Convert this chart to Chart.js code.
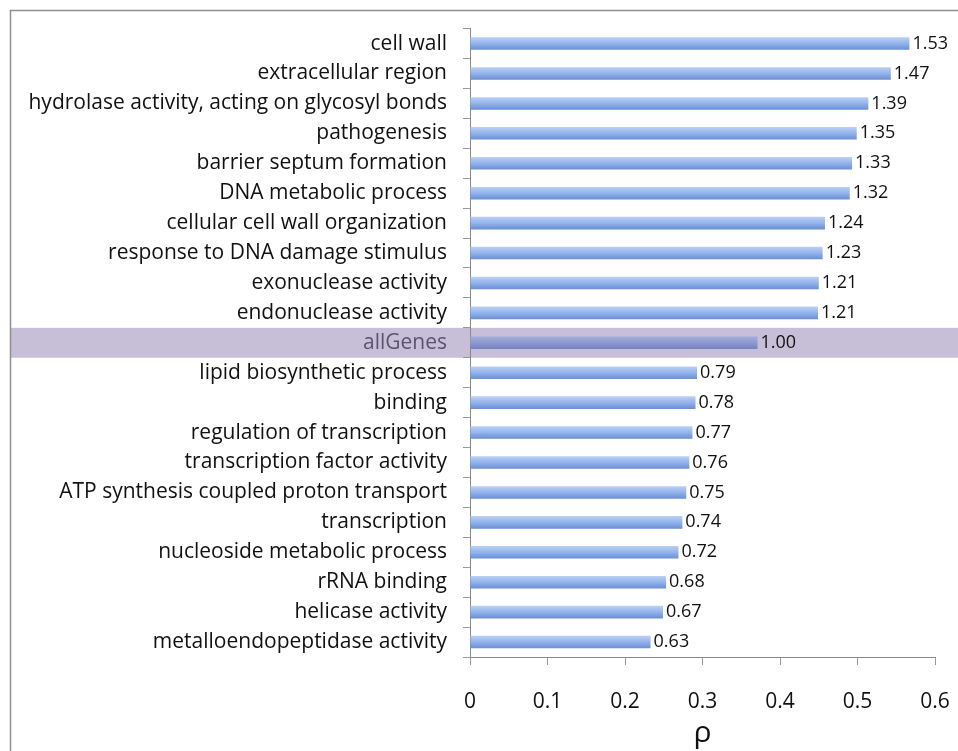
<!DOCTYPE html>
<html>
<head>
<meta charset="utf-8">
<script src="https://cdn.jsdelivr.net/npm/chart.js@4"></script>
<style>
    html, body { margin: 0; padding: 0; background: #fff; }
    #wrap { width: 958px; height: 751px; position: relative; }
</style>
</head>
<body>
<div id="wrap"><canvas id="rhoChart"></canvas></div>
<script>
// categorias, valores de rho (largo de barra) y etiquetas mostradas
const categorias = [
    'cell wall', 'extracellular region', 'hydrolase activity, acting on glycosyl bonds',
    'pathogenesis', 'barrier septum formation', 'DNA metabolic process',
    'cellular cell wall organization', 'response to DNA damage stimulus',
    'exonuclease activity', 'endonuclease activity', 'allGenes',
    'lipid biosynthetic process', 'binding', 'regulation of transcription',
    'transcription factor activity', 'ATP synthesis coupled proton transport',
    'transcription', 'nucleoside metabolic process', 'rRNA binding',
    'helicase activity', 'metalloendopeptidase activity'
];
const valoresRho = [
    0.567, 0.543, 0.514, 0.499, 0.493, 0.490, 0.458, 0.455, 0.450, 0.449, 0.371,
    0.293, 0.291, 0.287, 0.283, 0.279, 0.274, 0.269, 0.253, 0.249, 0.233
];
const etiquetasValor = [
    '1.53', '1.47', '1.39', '1.35', '1.33', '1.32', '1.24', '1.23', '1.21', '1.21', '1.00',
    '0.79', '0.78', '0.77', '0.76', '0.75', '0.74', '0.72', '0.68', '0.67', '0.63'
];
const ticksX = [0, 0.1, 0.2, 0.3, 0.4, 0.5, 0.6];
const categoriaResaltada = 'allGenes';

const idxResaltado = categorias.indexOf(categoriaResaltada);
const fuente = '"Open Sans", "Noto Sans", sans-serif';

function colorBarra(context) {
    const chart = context.chart;
    const { chartArea } = chart;
    if (!chartArea) return '#8eb0ea';
    const yc = chart.scales.y.getPixelForValue(context.dataIndex);
    const g = chart.ctx.createLinearGradient(0, yc - 6, 0, yc + 6);
    if (context.dataIndex === idxResaltado) {
        g.addColorStop(0, '#a3addb');
        g.addColorStop(0.5, '#8d99d0');
        g.addColorStop(1, '#7583c1');
    } else {
        g.addColorStop(0, '#b9cff5');
        g.addColorStop(0.5, '#93b3ec');
        g.addColorStop(1, '#6b90d5');
    }
    return g;
}

const bandaPlugin = {
    id: 'banda',
    beforeDraw(chart) {
        const y = chart.scales.y;
        const paso = (chart.chartArea.bottom - chart.chartArea.top) / categorias.length;
        const yc = y.getPixelForValue(idxResaltado);
        const ctx = chart.ctx;
        ctx.save();
        ctx.fillStyle = '#c7bfd8';
        ctx.fillRect(10, yc - paso / 2, chart.width - 10, paso);
        ctx.restore();
    },
    afterDraw(chart) {
        const ctx = chart.ctx;
        ctx.save();
        ctx.strokeStyle = '#8e8e8e';
        ctx.lineWidth = 1.5;
        ctx.strokeRect(10.5, 10.5, chart.width + 20, chart.height + 20);
        ctx.restore();
    }
};

const etiquetasPlugin = {
    id: 'etiquetasValor',
    afterDatasetsDraw(chart) {
        const ctx = chart.ctx;
        const meta = chart.getDatasetMeta(0);
        ctx.save();
        ctx.font = '18px ' + fuente;
        ctx.fillStyle = '#111';
        ctx.textBaseline = 'middle';
        ctx.textAlign = 'left';
        meta.data.forEach((bar, i) => {
            ctx.fillText(etiquetasValor[i], bar.x + 3, bar.y);
        });
        ctx.restore();
    }
};

new Chart(document.getElementById('rhoChart').getContext('2d'), {
    type: 'bar',
    data: {
        labels: categorias,
        datasets: [{
            data: valoresRho,
            backgroundColor: colorBarra,
            borderWidth: 0,
            barPercentage: 0.42,
            categoryPercentage: 1
        }]
    },
    options: {
        indexAxis: 'y',
        responsive: true,
        maintainAspectRatio: false,
        animation: false,
        layout: { padding: { left: 0, right: 23, top: 26, bottom: 0 } },
        plugins: {
            legend: { display: false },
            tooltip: { enabled: false }
        },
        scales: {
            x: {
                min: 0,
                max: 0.6,
                afterBuildTicks: (scale) => { scale.ticks = ticksX.map(v => ({ value: v })); },
                afterFit: (scale) => {
                    scale.height = 94;
                    scale.paddingLeft = 0;
                    scale.paddingRight = 0;
                },
                border: { color: '#8a8a8a', width: 1 },
                grid: { drawOnChartArea: false, tickLength: 8, color: '#9a9a9a' },
                ticks: {
                    color: '#111',
                    font: { family: fuente, size: 21 },
                    padding: 24,
                    callback: (v) => v === 0 ? '0' : v.toFixed(1)
                },
                title: {
                    display: true,
                    text: 'ρ',
                    color: '#111',
                    font: { family: fuente, size: 30 },
                    padding: { top: 0, bottom: 0 }
                }
            },
            y: {
                afterFit: (scale) => { scale.width = 470; },
                border: { color: '#8a8a8a', width: 1 },
                grid: { drawOnChartArea: false, offset: true, tickLength: 7, color: '#9a9a9a' },
                ticks: {
                    color: (ctx) => ctx.index === idxResaltado ? '#5b5273' : '#111',
                    font: { family: fuente, size: 21 },
                    padding: 16,
                    autoSkip: false
                }
            }
        }
    },
    plugins: [bandaPlugin, etiquetasPlugin]
});
</script>
</body>
</html>
